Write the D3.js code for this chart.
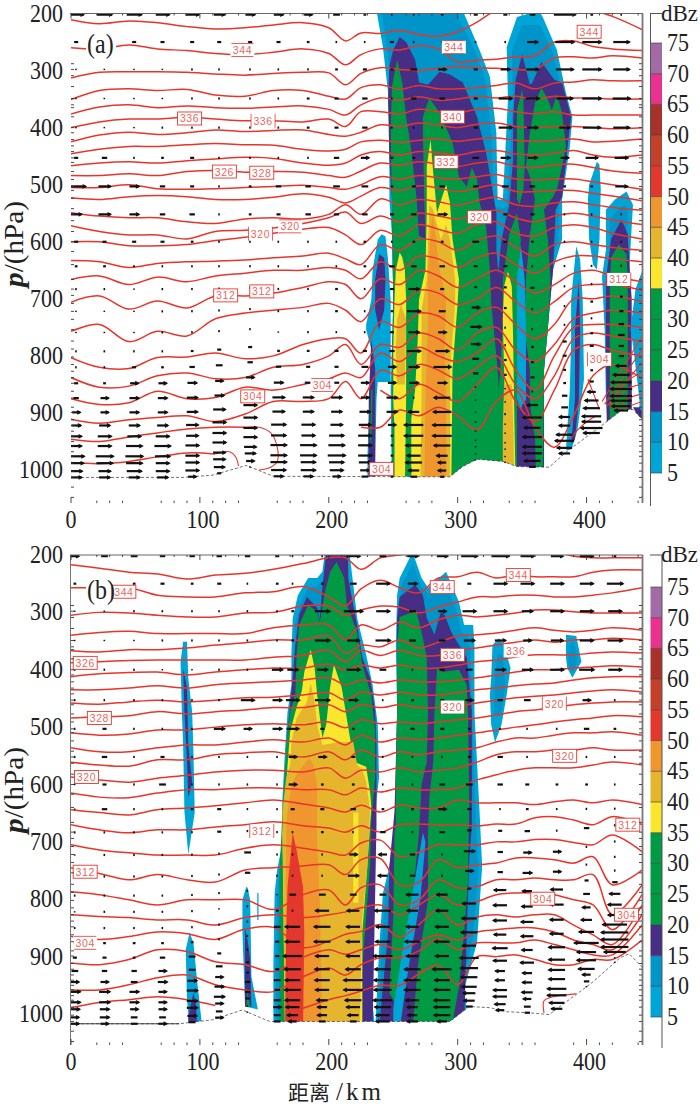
<!DOCTYPE html>
<html>
<head>
<meta charset="utf-8">
<script src="https://cdn.jsdelivr.net/npm/d3@7"></script>
<style>
  html, body { margin: 0; padding: 0; background: #fff; }
  svg { display: block; }
</style>
</head>
<body>
<svg id="chart" width="700" height="1106"></svg>
<script>
// shared axis values
const xMajor = [0, 100, 200, 300, 400];
const xMinor = [20,30,40,70,80,90,110,120,130,160,170,180,210,220,230,260,270,280,310,320,340,350,360,390,410,420,440];
const pMajor = [200, 300, 400, 500, 600, 700, 800, 900, 1000];
const pMinor = [288,298,309,328,349,360,365,381,400,409,421,432,442,453,461,477,491,503,510,524,542,552,563,582,600,617,640,666,683,694,708,722,736,754,774,788,802,815,827,838,848,862,874,890,899,912,922,932,941,950,958,968,976,988,1002,1013,1030,1048];
const dbzLevels = [5,10,15,20,25,30,35,40,45,50,55,60,65,70];
const dbzLabels = [5,10,15,20,25,30,35,40,45,50,55,60,65,70,75];
const dbzColors = ["#00a5d8","#0094c9","#452e83","#009a44","#009a44","#009a44","#fbe62e","#e5b62d","#f0962f","#e3382d","#c5402a","#a8322a","#e8328d","#a36ba6"];

// km grid of the theta lines
const thetaKm = [0,22,45,67,90,112,135,157,180,200,213,225,240,255,270,285,300,315,330,345,360,375,390,405,420,443];
// pressure levels of the wind rows
const windLevels = [202,250,298,349,400,453,503,552,600,643,683,722,759,792,820,848,874,899,922,941,958,976,988,1002,1013];
const aWindKm = [4,26,49,71,94,115,139,161,184,206,228,249,266,288,314,337,358,383,404,427];
const bWindKm = [3,26,49,71,94,115,137,160,172,195,219,242,265,288,309,333,354,377,400,422];

// panel (a) theta lines, hPa at thetaKm
const aTheta = [
[211,218,213,216,223,227,225,220,216,225,248,234,235,230,237,240,232,215,195,195,195,195,195,195,205,228],
[260,262,255,262,265,270,272,268,262,270,290,272,262,264,256,262,285,282,280,276,274,250,248,258,262,265],
[313,303,302,302,303,306,308,305,303,304,325,305,295,298,300,296,294,295,296,298,298,278,276,278,274,278],
[351,335,332,335,333,343,345,335,335,345,350,330,325,333,326,332,332,330,326,322,332,322,320,316,318,318],
[376,364,360,365,362,365,366,364,362,368,378,360,348,352,346,352,350,345,348,345,350,345,348,348,350,350],
[400,390,385,385,382,385,388,388,390,385,398,372,372,376,368,372,374,368,366,372,376,372,378,378,378,378],
[425,413,408,412,409,404,407,405,404,412,415,408,395,398,392,396,400,394,392,398,400,398,398,400,402,400],
[446,438,433,433,430,428,430,431,438,441,438,425,422,426,422,420,424,420,418,422,424,422,420,425,424,420],
[467,462,460,462,458,455,452,454,462,466,462,448,442,448,442,444,448,442,440,446,448,445,440,448,452,448],
[484,484,481,484,477,475,478,477,478,484,487,476,462,466,460,464,468,462,460,468,470,465,464,470,476,480],
[505,505,500,507,508,507,505,503,501,505,508,500,486,490,484,488,490,486,482,490,492,490,490,495,500,508],
[523,526,521,519,521,526,526,522,516,522,532,520,505,510,502,506,512,506,500,512,512,510,510,515,520,528],
[549,555,558,558,565,568,560,558,560,552,535,552,525,535,526,530,536,528,522,535,538,532,530,535,540,545],
[572,582,588,588,595,582,580,576,568,558,548,568,555,565,550,555,560,550,545,558,565,555,550,555,562,570],
[600,600,607,607,605,598,592,585,578,575,588,605,580,590,570,578,585,570,565,585,590,575,570,575,585,595],
[633,635,645,638,635,634,632,628,625,620,630,640,605,615,595,600,615,598,590,610,625,605,600,605,610,615],
[666,660,675,662,670,660,655,650,650,645,650,665,635,650,625,630,645,628,620,640,655,635,625,625,630,635],
[706,695,718,704,716,695,695,690,680,670,675,700,665,675,650,660,680,665,650,670,690,675,655,650,660,670],
[757,745,775,757,765,735,725,720,715,708,720,740,700,710,685,690,710,700,680,705,725,705,680,675,675,685],
[803,820,822,803,802,795,805,800,780,770,770,795,740,750,725,730,750,725,715,745,770,745,700,700,695,705],
[838,855,853,835,830,840,838,820,815,800,780,815,780,785,760,770,790,760,750,790,810,780,735,725,720,725],
[875,885,882,862,875,873,855,860,850,840,830,838,795,810,785,800,810,795,770,825,860,800,750,745,745,750],
[911,918,912,908,905,915,902,880,880,875,845,875,825,835,815,825,840,820,800,850,875,835,770,760,765,775],
[946,950,942,935,928,925,925,null,null,null,null,null,860,875,850,865,880,850,820,880,915,860,790,780,790,800],
[987,989,985,977,970,972,null,null,null,null,null,925,925,895,905,890,905,930,880,860,925,960,905,835,815,840]
];
// short theta segments, km and hPa pairs
const aThetaExtra = [
[135,925,146,925,155,935,160,960,160,985,155,995,146,1000],
[112,972,123,968,128,978,130,993],
[412,880,443,766],[414,885,443,789],[416,888,443,811],
[418,890,428,850,443,829],[421,893,430,860,443,850],[424,895,432,875,443,867],[427,893,443,880],
[401,841,405,864,410,894],[387,946,396,923,403,911,408,905]
];
const aGround = [0,1013,87,1013,110,1009,136,992,157,1011,294,1012,304,994,315,981,335,985,346,994,371,995,384,969,410,925,428,894,436,894,443,911];

// panel (a) reflectivity shapes, painted in order: [lower dBZ, km/hPa pairs]
const aShapes = [
[5,[237,195,242,259,246,339,247,409,247,526,249,588,250,701,248,859,249,1040,367,1040,367,824,374,649,381,596,381,526,387,434,389,381,384,339,377,264,366,206,363,195,346,206,338,259,339,351,335,526,331,526,330,409,325,311,317,264,304,195]],
[10,[241,195,245,259,249,339,250,409,250,526,252,588,253,701,252,859,252,1040,365,1040,364,824,371,649,378,596,379,526,384,434,386,381,381,339,374,270,364,220,350,220,342,265,343,351,338,540,328,540,326,409,321,311,313,264,298,195]],
[5,[234,649,238,596,241,587,244,591,246,631,248,701,248,846,238,846,237,876,236,981,236,1040,230,1040,230,976,232,841,233,789,229,754,229,745,233,701]],
[15,[239,622,236,666,236,719,239,754,243,719,244,666,243,628]],
[15,[233,771,231,876,231,1040,236,1040,236,911,236,824]],
[20,[233,859,232,946,233,955,234,859]],
[15,[255,241,250,264,247,293,246,351,247,456,249,526,250,701,249,859,250,1040,332,1040,332,666,330,614,330,549,322,444,315,381,304,321,294,307,286,302,277,325,270,321,267,281,260,250]],
[15,[350,272,345,316,343,386,343,456,340,535,334,596,331,666,331,824,336,1040,367,1040,367,824,374,649,376,544,381,521,385,439,388,381,381,321,375,316,365,285,358,321,356,325,353,298]],
[20,[253,281,249,328,248,409,249,526,250,701,249,859,249,1040,332,1040,332,859,331,824,326,706,325,649,322,573,317,531,315,491,311,470,307,503,301,486,296,426,286,374,278,348,273,381,273,409,274,521,275,596,270,589,268,521,264,439,260,381,257,321]],
[20,[350,333,346,369,346,468,346,526,348,535,351,508,352,468,351,351]],
[20,[365,330,360,356,356,409,353,468,356,486,360,526,356,587,353,666,352,754,356,824,356,1040,366,1040,367,824,370,754,372,666,370,596,367,544,374,521,377,508,381,468,384,433,381,374,377,342,373,369,370,351]],
[20,[346,549,340,587,335,666,335,736,333,824,332,859,332,1040,346,1040,346,701,348,631,349,596]],
[5,[349,605,346,666,346,876,349,894,353,876,353,754,352,666]],
[15,[350,885,346,946,347,1040,361,1040,360,946,356,885]],
[35,[339,652,336,678,335,736,336,824,338,1040,345,1040,344,911,343,766,342,678]],
[40,[336,850,335,929,335,1040,344,1040,343,911,342,850]],
[35,[279,421,276,468,276,549,275,649,270,701,269,771,267,859,264,911,264,1040,295,1040,296,824,300,706,301,666,296,596,294,531,291,500,288,521,284,549,281,479]],
[40,[278,535,277,596,276,666,272,719,272,859,271,1040,294,1040,294,824,298,710,298,666,294,596,291,570,287,596,284,570,281,544]],
[45,[280,552,278,614,277,666,277,736,275,876,274,1040,291,1040,291,876,290,788,291,701,286,649,284,614,282,570]],
[35,[255,619,252,649,251,701,250,788,250,876,251,929,251,1040,259,1040,260,876,260,701,259,649,257,627]],
[40,[256,710,253,736,252,788,253,850,259,850,260,736]],
[5,[392,608,388,701,388,771,387,859,384,964,388,967,393,929,398,841,397,701,395,631]],
[15,[394,666,391,754,391,876,388,955,391,946,394,876,395,754]],
[5,[408,460,402,500,401,526,402,596,405,640,408,649,410,596,411,508,410,465]],
[5,[431,512,422,526,415,544,415,614,412,661,414,754,415,876,419,1000,434,1000,435,876,434,754,432,701,434,614,436,535]],
[10,[430,535,424,544,418,560,418,620,416,666,418,760,418,880,422,1000,431,1000,432,760,431,630,432,545]],
[15,[427,561,419,596,415,666,415,771,416,1000,435,1000,435,701,433,631,432,587]],
[20,[425,605,419,628,418,675,418,1000,432,1000,432,666,431,622]],
[5,[438,683,445,640,445,1000,441,1000,441,876,436,780,434,754]],
[15,[436,890,441,890,445,905,445,925,441,910]]
];

// panel (a) wind, one row per windLevels, u per aWindKm
const aWind = [
[11,11,11,10,10,8,7,7,6,5,2,1,1,2,3,3,4,16,2,1],
[3,3,3,3,3,3,3,3,2,1,1,3,1,1,1,1,8,14,14,12],
[0,0,0,0,1,1,1,1,1,2,3,2,5,6,3,7,9,13,14,12],
[0,0,0,0,1,1,1,1,2,3,4,1,4,4,3,10,10,12,14,13],
[0,0,0,1,1,1,1,1,2,3,4,1,1,1,3,10,8,8,13,12],
[3,4,1,2,3,1,1,1,1,4,6,2,2,2,5,7,7,6,9,10],
[14,9,7,4,3,1,2,4,4,5,5,2,3,4,4,5,4,2,2,9],
[8,9,7,4,4,1,2,3,4,4,4,3,4,7,3,3,3,1,1,1],
[3,3,3,3,2,1,1,1,1,1,2,1,2,2,5,3,2,1,1,1],
[2,2,1,1,1,1,1,1,1,1,2,4,4,4,3,3,1,1,1,1],
[1,1,0,1,1,1,1,1,1,2,1,3,8,3,2,2,3,1,1,2],
[0,0,0,1,1,1,1,1,1,2,1,2,10,5,6,2,1,1,2,2],
[0,0,0,1,1,1,1,0,1,1,1,3,8,6,8,1,1,1,1,3],
[1,1,1,1,2,3,3,2,2,3,3,4,10,10,7,1,2,3,2,4],
[1,1,3,2,4,5,4,4,3,3,5,6,8,13,5,2,2,3,3,5],
[3,2,6,6,7,6,6,7,5,4,6,6,7,7,4,2,3,2,3,4],
[4,6,7,7,8,7,9,9,8,8,6,8,1,-12,0,0,-1,-2,-2,4],
[6,6,7,7,8,9,10,9,8,8,8,8,-8,-13,0,0,-8,-4,-3,-8],
[7,8,8,8,9,10,10,11,10,9,9,6,-14,-14,0,-1,-14,-5,-6,-12],
[8,10,10,10,9,10,10,11,10,11,10,2,-14,-14,0,0,-12,-8,-10,-15],
[8,10,12,12,10,10,10,12,12,12,10,2,-12,-12,0,0,-14,-8,-12,-16],
[12,13,13,11,10,9,9,12,12,13,10,2,-10,-8,0,0,-14,-12,-14,-16],
[11,12,12,10,10,9,8,12,11,11,9,1,-12,-6,0,0,-14,-14,-14,-15],
[9,9,11,10,10,8,6,11,11,10,7,1,-8,-6,0,0,-12,-11,-16,-14],
[8,8,8,8,6,3,0,7,7,6,5,2,-5,-3,0,0,-5,-8,-12,-10]
];

const aLabels = [
["344",133,264,"h"],["344",297,259,"h"],["344",402,232,"b"],["336",92,384,"b"],["336",149,388,"v"],
["340",296,381,"b"],["332",291,460,"b"],["320",317,557,"b"],["326",119,477,"b"],["328",148,479,"b"],
["320",147,586,"v"],["320",170,573,"h"],["312",120,694,"b"],["312",148,687,"b"],["304",141,871,"b"],
["304",195,851,"h"],["304",410,806,"v"],["312",425,666,"v"],["304",241,998,"b"]
];

// panel (b) theta lines
const bTheta = [
[217,223,230,233,242,235,232,225,215,205,205,225,205,200,195,195,195,195,195,195,195,195,202,205,205,205],
[257,257,257,270,273,273,266,264,255,273,289,259,244,257,266,240,238,230,240,235,238,238,238,230,226,226],
[305,300,301,305,308,308,301,300,289,289,305,296,289,291,301,291,282,273,273,270,270,273,273,270,266,257],
[340,335,333,337,337,337,337,327,322,322,348,322,331,317,327,313,305,308,305,301,296,296,299,301,301,301],
[367,369,365,365,362,357,353,348,348,341,371,357,360,348,362,352,341,339,336,331,327,331,334,331,327,331],
[388,386,384,383,383,383,383,378,375,366,386,366,375,366,375,375,366,362,357,352,348,352,348,348,345,348],
[412,407,405,404,409,404,400,397,397,390,400,392,397,392,397,397,392,386,383,378,374,374,374,371,369,371],
[435,435,432,428,432,426,423,421,418,414,426,418,423,418,421,421,418,414,409,404,400,400,397,395,393,395],
[458,460,456,453,456,453,449,448,444,440,453,439,444,439,444,444,440,435,432,428,425,423,418,414,412,412],
[484,482,480,473,477,473,470,466,466,461,473,461,466,461,466,466,463,458,453,449,446,444,440,437,435,439],
[510,514,512,505,505,500,496,494,496,491,501,487,494,491,494,491,487,484,479,473,470,466,461,458,456,456],
[536,543,543,536,531,531,526,522,526,519,531,514,526,519,522,519,514,510,505,500,496,491,487,484,480,482],
[561,566,568,557,557,548,545,543,552,543,557,540,552,543,548,543,540,536,526,519,519,514,510,510,508,514],
[587,592,596,589,584,578,575,575,578,571,589,575,578,571,578,575,571,561,548,543,543,540,540,536,540,540],
[615,622,623,615,609,609,606,606,609,609,618,606,613,606,609,609,606,592,583,575,571,571,571,566,561,566],
[644,649,653,644,641,637,632,627,634,641,648,636,648,636,641,641,627,632,632,632,635,630,627,632,627,635],
[670,679,684,679,679,674,670,665,672,676,683,672,683,670,669,670,670,672,669,669,658,656,662,670,656,670],
[705,714,719,723,723,723,711,705,711,718,723,702,697,726,718,705,705,705,700,700,696,696,701,705,688,717],
[745,755,766,757,766,770,749,745,742,740,757,731,729,775,770,731,745,740,737,728,728,731,737,726,775,749],
[787,792,801,810,801,801,801,818,792,784,810,780,775,810,801,766,780,778,766,766,763,766,766,757,827,775],
[827,830,832,836,836,845,832,827,832,827,822,815,810,827,810,792,810,804,792,789,789,792,801,810,853,792],
[865,870,865,857,860,870,852,849,884,873,861,856,844,866,844,818,845,831,827,831,827,827,845,862,879,810],
[911,914,905,888,891,909,914,926,901,888,896,888,879,888,874,862,871,857,853,850,850,857,871,879,888,827],
[958,958,949,937,932,949,958,961,935,920,932,914,902,902,890,869,888,876,876,876,871,879,888,897,897,845],
[989,980,975,970,975,985,null,null,990,975,968,960,950,950,930,915,949,900,900,897,905,914,914,905,905,871]
];
const bThetaExtra = [
[367,998,367,977,374,970,392,965]
];
const bGround = [0,1017,84,1017,110,1010,133,993,154,1013,294,1013,309,987,325,989,338,996,356,998,371,1001,405,944,426,902,433,895,443,918];
const bGroundSolid = [0,1017,84,1017];

const bShapes = [
[5,[87,351,85,386,86,473,87,531,88,647,91,722,96,649,95,543,94,473,91,414,90,351]],
[15,[87,397,88,473,90,561,91,623,94,595,91,531,90,431]],
[5,[92,858,89,888,90,975,92,1027,102,1027,98,945,95,876]],
[15,[95,963,91,1005,91,1027,98,1027,97,985]],
[5,[136,778,133,801,133,858,135,987,145,992,140,935,139,801,137,780]],
[15,[135,850,135,917,135,987,140,987,139,905,137,871]],
[20,[137,960,136,987,139,987]],
[5,[144.5,789,145.5,789,145.5,836,144.5,836]],
[5,[197,195,195,229,191,240,184,240,176,270,172,310,171,374,171,426,168,473,166,543,164,627,164,702,160,748,158,789,157,917,157,1027,236,1027,232,940,234,743,237,627,239,588,238,496,234,426,229,374,222,310,219,252,216,195]],
[10,[199,195,197,240,191,255,184,258,178,285,174,320,173,380,173,430,170,480,168,550,166,635,166,705,162,755,160,795,159,917,159,1027,234,1027,230,935,232,740,235,630,237,590,236,500,232,430,227,380,220,315,216,250,214,195]],
[15,[198,195,195,257,193,313,191,292,183,273,177,304,174,357,172,414,168,508,166,588,164,684,162,748,162,1027,234,1027,237,670,237,531,236,473,232,414,226,379,222,322,215,240,215,195]],
[20,[206,212,201,229,197,265,195,292,193,317,191,299,184,287,177,322,175,374,174,444,170,473,167,531,164,647,162,748,162,1027,226,1027,226,917,232,743,233,661,236,588,236,508,233,444,226,391,222,334,214,287,212,240]],
[35,[186,365,181,404,179,438,175,466,170,508,168,566,166,635,164,684,166,1027,226,1027,226,858,229,771,233,639,232,613,229,569,220,561,216,513,210,431,204,391,201,431,198,496,195,519,191,444,189,397]],
[40,[186,423,183,456,175,484,171,526,170,566,167,588,164,647,166,1027,224,1027,226,831,230,743,232,644,229,595,226,575,222,566,219,526,208,526,195,531,191,496,189,456]],
[35,[219,649,219,806,223,806,223,649]],
[45,[185,554,176,578,171,600,168,647,167,684,166,1027,195,1027,193,801,191,700,191,647,191,600,188,566]],
[50,[172,684,168,778,167,858,166,1027,180,1027,181,858,180,778,175,714]],
[5,[265,195,255,240,253,270,252,357,253,473,252,588,251,670,247,743,242,789,239,888,236,1027,309,1027,305,957,315,876,319,743,317,649,313,473,313,357,312,322,305,322,301,282,291,229,277,257,272,240]],
[10,[265,215,257,250,255,275,254,357,255,473,254,588,253,670,249,743,244,789,241,888,238,1027,306,1027,303,950,312,870,316,743,314,649,311,473,310,370,308,340,303,335,298,290,290,250,278,270,272,255]],
[15,[267,252,255,273,253,310,253,473,251,647,247,743,246,858,239,1027,305,1027,307,858,309,731,311,670,311,473,307,379,295,334,290,305,287,299,282,339,276,310,273,270]],
[20,[263,301,255,308,253,357,253,473,252,588,252,670,251,684,250,831,247,963,251,980,253,970,259,893,265,801,270,684,272,600,276,561,277,473,276,379,272,334,268,299]],
[20,[284,397,282,473,281,561,278,623,277,684,277,801,269,917,265,1027,295,1027,301,953,305,858,308,771,309,627,308,473,307,426,301,400,288,404]],
[5,[273,684,264,801,257,893,250,990,250,1027,255,1027,262,917,271,801,275,700]],
[5,[332,345,327,357,326,414,325,444,326,496,329,527,334,496,338,444,341,397,336,357]],
[10,[331,370,329,414,328,480,333,480,337,430,335,375]],
[5,[384,339,384,379,385,397,389,414,396,386,392,341]],
[10,[386,360,386,390,389,405,393,385,390,350]]
];

const bWind = [
[6,5,5,4,4,4,4,3,1,1,10,5,8,8,12,13,10,9,10,2],
[2,2,2,3,2,3,1,2,1,2,5,10,7,6,3,10,10,10,10,12],
[0,0,1,1,1,1,1,1,2,11,14,10,5,6,10,10,8,10,10,10],
[0,0,0,1,1,1,1,1,2,11,9,11,5,5,8,8,6,9,10,11],
[1,1,1,0,0,1,1,8,8,8,10,5,1,4,5,8,8,10,11,10],
[1,1,1,1,1,1,10,7,10,11,7,1,2,3,6,4,5,6,6,1],
[1,3,1,1,1,8,6,7,9,3,2,1,3,3,2,1,1,1,4,2],
[1,4,1,3,1,1,1,1,6,6,3,1,1,1,2,4,1,1,1,1],
[0,3,1,5,1,1,1,1,6,2,2,1,1,4,5,4,3,2,2,1],
[0,4,1,1,2,3,1,1,3,3,4,2,2,6,3,1,2,1,1,1],
[1,1,1,1,1,3,1,1,1,2,1,4,1,4,3,3,4,1,4,1],
[0,1,1,1,1,1,5,1,1,1,6,-6,4,1,8,4,6,6,1,1],
[1,1,1,1,1,1,4,1,1,1,8,-7,4,1,6,4,7,6,1,1],
[1,1,1,1,1,1,1,0,5,5,5,5,-9,-8,3,-9,-7,-9,-3,1],
[0,1,1,1,1,0,1,2,-1,-10,-9,-12,-8,-9,-10,-10,-8,-10,-5,-4],
[1,1,1,1,1,1,1,-5,-11,-12,-10,-10,-9,-10,-11,-10,-9,-10,-6,-8],
[2,2,2,2,2,1,1,3,-11,-12,-10,-11,-11,-11,-12,-9,-9,-10,-8,-10],
[3,3,2,4,5,3,1,3,-14,-10,-10,-14,-9,-10,-10,-11,-8,-12,-11,-10],
[5,4,4,6,5,5,2,3,-12,-11,-11,-12,-12,-14,-14,-10,-10,-12,-18,-18],
[6,6,5,7,7,6,2,5,-11,-11,-14,-13,-12,-11,-13,-7,-7,-12,-14,-20],
[8,8,7,6,8,7,4,4,-12,-10,-14,-13,-12,-12,-12,-7,-7,-12,-14,-20],
[8,8,7,6,8,8,4,5,-11,-8,-12,-14,-10,-12,-11,-10,-8,-14,-12,-20],
[7,7,6,6,8,6,3,6,-10,-7,-10,-12,-8,-12,-9,-10,-6,-14,-6,-16],
[6,7,5,5,7,5,0,5,-8,-7,-8,-10,-7,-12,-8,-8,-5,-11,-4,0],
[6,6,5,6,5,6,0,5,-6,-5,-5,-10,-8,-7,-5,-6,-4,-8,0,0]
];

const bLabels = [
["344",41,264,"b"],["326",11,388,"b"],["328",22,484,"b"],["320",12,587,"b"],["312",11,752,"b"],
["304",11,876,"h"],["312",148,681,"v"],["344",288,256,"b"],["336",296,374,"b"],["320",296,465,"v"],
["344",347,235,"b"],["336",345,367,"n"],["320",375,459,"v"],["320",383,550,"b"],["312",432,670,"b"],
["304",366,799,"b"],["304",431,827,"b"]
];

const svg = d3.select("#chart");
const red = "#e8352c";
const serif = "'Liberation Serif', serif";

function pairs(flat) {
  var out = [];
  for (var i = 0; i < flat.length; i += 2) out.push([flat[i], flat[i + 1]]);
  return out;
}

// serif text is a bit taller than wide in the original
function label(g, str, x, y, size, anchor) {
  return g.append("text")
    .attr("transform", "translate(" + x + "," + y + ") scale(1,1.1)")
    .attr("text-anchor", anchor || "start")
    .attr("font-family", serif)
    .attr("font-size", size)
    .attr("fill", "#222")
    .text(str);
}

function drawPanel(cfg) {
  const x = d3.scaleLinear().domain([0, 443]).range([71, 642]);
  const y = d3.scaleLinear().domain([200, 1000]).range(cfg.yRange);
  const top = y(200), bottom = y(cfg.pBottom);
  const g = svg.append("g");
  const clipId = "clip-" + cfg.name;
  g.append("clipPath").attr("id", clipId).append("rect")
    .attr("x", 71).attr("y", top).attr("width", 571).attr("height", bottom - top);
  const plot = g.append("g").attr("clip-path", "url(#" + clipId + ")");

  const bandColor = d3.scaleOrdinal().domain(dbzLevels).range(dbzColors);
  const shapeLine = d3.line().x(d => x(d[0])).y(d => y(d[1])).curve(d3.curveLinearClosed);

  plot.selectAll(".shape").data(cfg.shapes).enter().append("path")
    .attr("class", "shape")
    .attr("d", d => shapeLine(pairs(d[1])))
    .attr("fill", d => bandColor(d[0]));

  // theta contours
  const thetaLine = d3.line()
    .defined(d => d[1] != null)
    .x(d => x(d[0])).y(d => y(d[1]))
    .curve(d3.curveCatmullRom.alpha(0.5));
  plot.selectAll(".theta").data(cfg.theta).enter().append("path")
    .attr("class", "theta").attr("fill", "none").attr("stroke", red).attr("stroke-width", 1.5)
    .attr("d", d => thetaLine(d.map((p, i) => [thetaKm[i], p])));
  plot.selectAll(".extra").data(cfg.extra).enter().append("path")
    .attr("class", "extra").attr("fill", "none").attr("stroke", red).attr("stroke-width", 1.1)
    .attr("d", d => thetaLine(pairs(d)));

  // terrain is white, everything under it is hidden
  const groundPts = pairs(cfg.ground);
  const groundAt = d3.scaleLinear().domain(groundPts.map(d => d[0])).range(groundPts.map(d => d[1]));
  plot.append("path")
    .attr("fill", "#fff")
    .attr("d", d3.area().x(d => x(d[0])).y0(bottom + 2).y1(d => y(d[1]))(groundPts));
  plot.append("path")
    .attr("fill", "none").attr("stroke", "#333").attr("stroke-width", 0.7).attr("stroke-dasharray", "3,2")
    .attr("d", d3.line().x(d => x(d[0])).y(d => y(d[1]))(groundPts));
  if (cfg.groundSolid) {
    plot.append("path")
      .attr("fill", "none").attr("stroke", "#333").attr("stroke-width", 0.9)
      .attr("d", d3.line().x(d => x(d[0])).y(d => y(d[1]))(pairs(cfg.groundSolid)));
  }

  // white patch behind the panel tag hides the wind marks there
  plot.append("rect").attr("x", 86).attr("y", top + 18).attr("width", 30).attr("height", cfg.tagDy - 10).attr("fill", "#fff");

  // wind rows follow the terrain below 640 hPa
  const len = d3.scaleLinear().domain([0, 20]).range([0, 27]);
  const winds = [];
  cfg.wind.forEach((row, r) => row.forEach((u, c) => {
    const km = cfg.windKm[c];
    var p = windLevels[r];
    if (p > 640) p = 640 + (p - 640) * (groundAt(km) - 640) / (1013 - 640);
    if (km == 26 && r == 1) return;
    winds.push({km: km, p: p, u: u});
  }));
  const wind = plot.selectAll(".wind").data(winds).enter().append("g")
    .attr("class", "wind")
    .attr("transform", d => "translate(" + x(d.km) + "," + y(d.p) + ")");
  wind.append("rect")
    .attr("x", d => -Math.max(2, len(Math.abs(d.u))) / 2)
    .attr("y", d => Math.abs(d.u) < 1 ? -0.7 : -1.1)
    .attr("width", d => Math.max(1.6, len(Math.abs(d.u))))
    .attr("height", d => Math.abs(d.u) < 1 ? 1.4 : 2.2)
    .attr("fill", "#111");
  wind.filter(d => Math.abs(d.u) >= 6).append("path")
    .attr("fill", "#111")
    .attr("d", d => {
      const s = d.u > 0 ? 1 : -1, tip = s * len(Math.abs(d.u)) / 2;
      return "M" + (tip + s * 1.5) + ",0L" + (tip - s * 3) + ",-2.4L" + (tip - s * 3) + ",2.4Z";
    });

  // contour labels
  const lab = g.selectAll(".lab").data(cfg.labels).enter().append("g")
    .attr("class", "lab")
    .attr("transform", d => "translate(" + x(d[1]) + "," + y(d[2]) + ")");
  lab.append("rect").attr("x", -12).attr("y", -6.5).attr("width", 24).attr("height", 13)
    .attr("fill", "#fff")
    .attr("stroke", d => d[3] == "b" ? red : "none").attr("stroke-width", 0.9);
  lab.filter(d => d[3] == "h").append("path").attr("stroke", red).attr("stroke-width", 0.8)
    .attr("d", "M-11,-6.5H11M-11,6.5H11");
  lab.filter(d => d[3] == "v").append("path").attr("stroke", red).attr("stroke-width", 0.8)
    .attr("d", "M-12,-7V7M12,-7V7");
  lab.append("text").attr("text-anchor", "middle").attr("y", 4)
    .attr("font-family", "'Liberation Sans', sans-serif").attr("font-size", 10.5).attr("letter-spacing", 0.6)
    .attr("fill", red).attr("fill-opacity", 0.8)
    .text(d => d[0]);

  // frame and ticks
  g.append("line").attr("x1", 70).attr("x2", 643).attr("y1", top).attr("y2", top).attr("stroke", "#666").attr("stroke-width", 1.2);
  g.append("line").attr("x1", 642.5).attr("x2", 642.5).attr("y1", top).attr("y2", bottom).attr("stroke", "#777").attr("stroke-width", 1.8);
  if (cfg.leftLine) g.append("line").attr("x1", 70.5).attr("x2", 70.5).attr("y1", top).attr("y2", bottom).attr("stroke", "#777").attr("stroke-width", 1);

  const ticks = g.append("g").attr("stroke", "#333").attr("stroke-width", 0.9);
  xMinor.forEach(k => {
    ticks.append("line").attr("x1", x(k)).attr("x2", x(k)).attr("y1", top).attr("y2", top + 2);
    ticks.append("line").attr("x1", x(k)).attr("x2", x(k)).attr("y1", bottom - 2.5).attr("y2", bottom);
  });
  xMajor.forEach(k => {
    ticks.append("line").attr("x1", x(k)).attr("x2", x(k)).attr("y1", top).attr("y2", top + 5);
    ticks.append("line").attr("x1", x(k)).attr("x2", x(k)).attr("y1", bottom - 6).attr("y2", bottom);
  });
  pMinor.forEach(p => {
    ticks.append("line").attr("x1", 71).attr("x2", 74).attr("y1", y(p)).attr("y2", y(p));
    ticks.append("line").attr("x1", 639).attr("x2", 642).attr("y1", y(p)).attr("y2", y(p));
  });

  xMajor.forEach(k => label(g, k, x(k) + (k ? 3 : 0), bottom + 25, 22, "middle"));
  pMajor.forEach(p => label(g, p, 63, y(p) + 8, 22, "end"));

  label(g, cfg.tag, 87, top + cfg.tagDy, 24);

  // p/(hPa)
  const yl = g.append("text")
    .attr("transform", "translate(" + 23 + "," + cfg.yLabelY + ") rotate(-90) scale(1.08,1)")
    .attr("text-anchor", "middle").attr("font-family", serif).attr("font-size", 27).attr("fill", "#222");
  yl.append("tspan").attr("font-style", "italic").attr("font-weight", "bold").text("p");
  yl.append("tspan").text("/(hPa)");

  // colour bar
  const cb = d3.scaleLinear().domain([5, 75]).range(cfg.barRange);
  g.selectAll(".bar").data(dbzLevels).enter().append("rect")
    .attr("class", "bar")
    .attr("x", 650.5).attr("width", 11.5)
    .attr("y", d => cb(d + 5)).attr("height", d => cb(d) - cb(d + 5))
    .attr("fill", d => bandColor(d));
  g.selectAll(".sep").data(dbzLabels).enter().append("line")
    .attr("class", "sep")
    .attr("x1", 650.5).attr("x2", 662).attr("y1", d => cb(d)).attr("y2", d => cb(d))
    .attr("stroke", "#333").attr("stroke-width", 0.6);
  dbzLabels.forEach(d => label(g, d, 667, cb(d) + 8, 22));
  g.append("line").attr("x1", cfg.barLineX).attr("x2", cfg.barLineX).attr("y1", top).attr("y2", bottom + 3).attr("stroke", "#555").attr("stroke-width", 1);
  g.append("line").attr("x1", 650).attr("x2", 662).attr("y1", top).attr("y2", top).attr("stroke", "#555").attr("stroke-width", 1);
  g.append("text").attr("x", 661).attr("y", top + 7).attr("font-family", serif).attr("font-size", 23).attr("fill", "#222").text("dBz");
}

drawPanel({
  name: "a", tag: "(a)", yRange: [13.5, 470], pBottom: 1058, tagDy: 39,
  shapes: aShapes, theta: aTheta, extra: aThetaExtra, ground: aGround, groundSolid: null,
  wind: aWind, windKm: aWindKm, labels: aLabels, leftLine: false,
  barRange: [473, 43], barLineX: 650.5, yLabelY: 244
});
drawPanel({
  name: "b", tag: "(b)", yRange: [555, 1014], pBottom: 1054, tagDy: 44,
  shapes: bShapes, theta: bTheta, extra: bThetaExtra, ground: bGround, groundSolid: bGroundSolid,
  wind: bWind, windKm: bWindKm, labels: bLabels, leftLine: true,
  barRange: [1017, 587], barLineX: 662, yLabelY: 790
});

// bottom axis title
const xt = svg.append("text")
  .attr("transform", "translate(288,1100)")
  .attr("font-size", 21).attr("fill", "#222");
xt.append("tspan").attr("font-family", "'Noto Sans CJK SC'").text("距离");
xt.append("tspan").attr("font-family", serif).attr("font-size", 25).attr("dx", 6).attr("letter-spacing", 3).text("/km");
</script>
</body>
</html>
